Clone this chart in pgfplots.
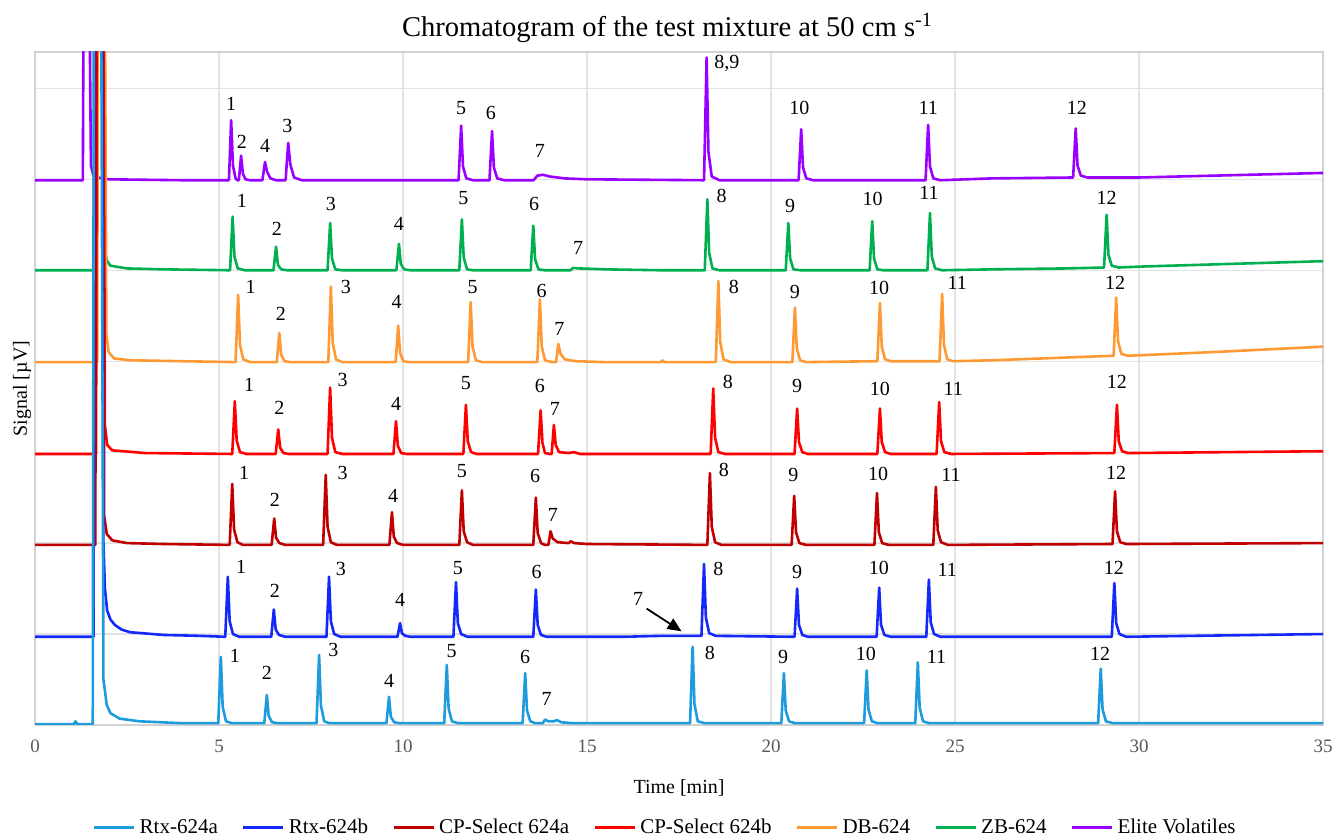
\documentclass[border=0pt]{standalone}
\usepackage{fontspec}
\setmainfont{Liberation Serif}
\usepackage{pgfplots}
\pgfplotsset{compat=1.18}
\usetikzlibrary{arrows.meta}

\definecolor{rtxa}{RGB}{30,155,220}
\definecolor{rtxb}{RGB}{20,40,250}
\definecolor{cpa}{RGB}{192,0,0}
\definecolor{cpb}{RGB}{255,0,0}
\definecolor{dbc}{RGB}{255,153,51}
\definecolor{zbc}{RGB}{0,176,80}
\definecolor{elite}{RGB}{153,0,255}
\definecolor{tickgray}{RGB}{89,89,89}

% peak label
\newcommand\pk[3]{\node[font=\fontsize{10}{12}\selectfont, text=black] at (axis cs:#1,#2) {#3};}

\begin{document}
\begin{tikzpicture}
\begin{axis}[
  width=644pt, height=336.5pt, scale only axis,
  xmin=0, xmax=35, ymin=0, ymax=7.4,
  xtick={0,5,...,35}, ytick={0,1,...,7}, yticklabels={},
  grid=major, grid style={gray!22, line width=0.6pt},
  axis line style={gray!35, line width=0.6pt},
  major tick length=0pt,
  tick label style={font=\fontsize{9.5}{11}\selectfont, text=tickgray},
  xticklabel style={yshift=-4pt},
  /pgf/number format/assume math mode=true,
  xlabel={Time [min]},
  xlabel style={font=\fontsize{10}{12}\selectfont, at={(axis description cs:0.5,-0.094)}, anchor=center},
  ylabel={Signal [µV]},
  ylabel style={font=\fontsize{10}{12}\selectfont, at={(axis description cs:-0.01,0.5)}, anchor=center},
  legend style={at={(axis description cs:0.49,-0.153)}, anchor=center, draw=none, fill=none,
    font=\fontsize{10.5}{12}\selectfont, legend columns=-1,
    /tikz/every even column/.append style={column sep=10pt}},
  legend image code/.code={\draw[#1, line width=1.5pt] (0pt,0pt) -- (20pt,0pt);},
  reverse legend,
  every axis plot/.append style={line width=1.3pt, line join=round, no marks},
]

% Elite Volatiles
\addplot[elite] coordinates {
(0,5.99) (1.30,5.99) (1.32,8) (1.48,8) (1.52,6.15) (1.58,6.05) (1.7,6.02) (2.0,6.0) (4,5.99)
(5.27,5.99) (5.33,6.65) (5.38,6.15) (5.45,6.01) (5.5,5.99)
(5.54,5.99) (5.60,6.26) (5.65,6.06) (5.72,6.0) (5.85,5.99)
(6.18,5.99) (6.25,6.19) (6.31,6.08) (6.4,6.01) (6.55,5.99)
(6.81,5.99) (6.88,6.40) (6.94,6.16) (7.04,6.02) (7.25,5.99)
(11.51,5.99) (11.58,6.59) (11.63,6.14) (11.72,6.01) (11.9,5.99)
(12.35,5.99) (12.42,6.53) (12.47,6.13) (12.56,6.01) (12.75,5.99)
(13.55,5.99) (13.65,6.04) (13.8,6.05) (14.0,6.03) (14.4,6.01) (15,6.0)
(18.18,5.99) (18.25,7.34) (18.3,6.3) (18.39,6.03) (18.6,5.99)
(20.75,5.99) (20.82,6.55) (20.87,6.13) (20.96,6.01) (21.15,5.99)
(24.2,5.99) (24.27,6.60) (24.32,6.14) (24.41,6.01) (24.6,5.99)
(26,6.01)
(28.21,6.02) (28.28,6.56) (28.33,6.15) (28.42,6.04) (28.6,6.02)
(30,6.02) (35,6.07)
};
\addlegendentry{Elite Volatiles}

% ZB-624
\addplot[zbc] coordinates {
(0,5.0) (1.63,5.0) (1.65,8) (1.86,8) (1.9,5.2) (1.95,5.11) (2.05,5.05) (2.5,5.02) (3.5,5.01)
(5.3,5.0) (5.37,5.59) (5.42,5.15) (5.51,5.02) (5.7,5.0)
(6.48,5.0) (6.55,5.26) (6.6,5.06) (6.69,5.01) (6.85,5.0)
(7.95,5.0) (8.02,5.52) (8.07,5.13) (8.16,5.01) (8.35,5.0)
(9.82,5.0) (9.89,5.29) (9.94,5.07) (10.03,5.01) (10.2,5.0)
(11.53,5.0) (11.6,5.56) (11.65,5.14) (11.74,5.01) (11.9,5.0)
(13.47,5.0) (13.54,5.49) (13.59,5.12) (13.68,5.01) (13.85,5.0)
(14.55,5.0) (14.62,5.025) (14.8,5.02) (15.5,5.01) (17,5.0)
(18.2,5.0) (18.27,5.78) (18.32,5.19) (18.41,5.02) (18.6,5.0)
(20.4,5.0) (20.47,5.52) (20.52,5.13) (20.61,5.01) (20.8,5.0)
(22.68,5.0) (22.75,5.54) (22.8,5.13) (22.89,5.01) (23.05,5.0)
(24.25,5.0) (24.32,5.63) (24.37,5.15) (24.46,5.02) (24.65,5.0)
(26,5.01) (28,5.02)
(29.05,5.03) (29.12,5.61) (29.17,5.17) (29.26,5.05) (29.45,5.03)
(30,5.04) (35,5.10)
};
\addlegendentry{ZB-624}

% DB-624
\addplot[dbc] coordinates {
(0,3.99) (1.69,3.99) (1.71,8) (1.9,8) (1.94,4.3) (2.0,4.1) (2.15,4.03) (2.6,4.01) (4,4.0)
(5.45,3.99) (5.52,4.73) (5.57,4.18) (5.66,4.02) (5.85,3.99)
(6.57,3.99) (6.64,4.31) (6.69,4.07) (6.78,4.0) (6.95,3.99)
(7.97,3.99) (8.04,4.82) (8.09,4.2) (8.18,4.02) (8.35,3.99)
(9.8,3.99) (9.87,4.39) (9.92,4.09) (10.01,4.0) (10.15,3.99)
(11.77,3.99) (11.84,4.65) (11.89,4.16) (11.98,4.01) (12.15,3.99)
(13.65,3.99) (13.72,4.68) (13.77,4.16) (13.86,4.01) (14.05,3.99)
(14.16,3.99) (14.22,4.19) (14.28,4.08) (14.4,4.02) (14.7,4.0) (15.5,3.99) (17.0,3.99) (17.05,4.01) (17.1,3.99)
(18.5,3.99) (18.57,4.88) (18.62,4.21) (18.71,4.02) (18.9,3.99)
(20.58,3.99) (20.65,4.59) (20.7,4.14) (20.79,4.01) (20.95,3.99)
(22.89,4.0) (22.96,4.64) (23.01,4.16) (23.1,4.02) (23.25,4.0)
(24.58,4.0) (24.65,4.74) (24.7,4.18) (24.79,4.02) (24.95,4.0)
(26,4.01) (28,4.04)
(29.31,4.06) (29.38,4.70) (29.43,4.22) (29.52,4.08) (29.7,4.06)
(32,4.10) (35,4.16)
};
\addlegendentry{DB-624}

% CP-Select 624b
\addplot[cpb] coordinates {
(0,2.98) (1.66,2.98) (1.68,8) (1.86,8) (1.9,3.3) (1.96,3.08) (2.1,3.02) (3,2.99)
(5.36,2.98) (5.43,3.56) (5.48,3.13) (5.57,3.0) (5.75,2.98)
(6.54,2.98) (6.61,3.25) (6.66,3.05) (6.75,2.99) (6.9,2.98)
(7.95,2.98) (8.02,3.71) (8.07,3.16) (8.16,3.0) (8.35,2.98)
(9.74,2.98) (9.81,3.34) (9.86,3.07) (9.95,2.99) (10.1,2.98)
(11.64,2.98) (11.71,3.52) (11.76,3.12) (11.85,3.0) (12.0,2.98)
(13.67,2.98) (13.74,3.46) (13.79,3.1) (13.86,2.99) (13.98,2.98)
(14.04,2.98) (14.10,3.30) (14.15,3.08) (14.24,3.0) (14.5,2.99) (14.65,3.0) (14.8,2.98)
(18.36,2.98) (18.43,3.70) (18.48,3.16) (18.57,3.0) (18.75,2.98)
(20.64,2.98) (20.71,3.48) (20.76,3.11) (20.85,3.0) (21.0,2.98)
(22.89,2.98) (22.96,3.48) (23.01,3.11) (23.1,3.0) (23.25,2.98)
(24.5,2.98) (24.57,3.55) (24.62,3.12) (24.71,3.0) (24.9,2.98)
(29.33,2.99) (29.40,3.52) (29.45,3.12) (29.54,3.01) (29.7,2.99)
(35,3.01)
};
\addlegendentry{CP-Select 624b}

% CP-Select 624a
\addplot[cpa] coordinates {
(0,1.98) (1.64,1.98) (1.66,8) (1.84,8) (1.88,2.3) (1.95,2.1) (2.1,2.03) (2.5,2.0) (3.5,1.99)
(5.29,1.98) (5.36,2.65) (5.41,2.15) (5.5,2.01) (5.65,1.98)
(6.43,1.98) (6.50,2.27) (6.55,2.06) (6.64,2.0) (6.8,1.98)
(7.83,1.98) (7.90,2.75) (7.95,2.18) (8.04,2.01) (8.2,1.98)
(9.63,1.98) (9.70,2.34) (9.75,2.07) (9.84,2.0) (10.0,1.98)
(11.53,1.98) (11.60,2.58) (11.65,2.13) (11.74,2.01) (11.9,1.98)
(13.54,1.98) (13.61,2.50) (13.66,2.11) (13.75,2.0) (13.85,1.98)
(13.95,1.98) (14.01,2.13) (14.07,2.05) (14.2,2.01) (14.5,2.0) (14.56,2.02) (14.65,2.0) (15,1.99)
(18.27,1.98) (18.34,2.77) (18.39,2.18) (18.48,2.01) (18.65,1.98)
(20.56,1.98) (20.63,2.52) (20.68,2.12) (20.77,2.0) (20.95,1.98)
(22.81,1.98) (22.88,2.55) (22.93,2.12) (23.02,2.0) (23.2,1.98)
(24.41,1.98) (24.48,2.62) (24.53,2.14) (24.62,2.01) (24.8,1.98)
(29.28,1.99) (29.35,2.57) (29.4,2.13) (29.49,2.01) (29.65,1.99)
(35,2.0)
};
\addlegendentry{CP-Select 624a}

% Rtx-624b
\addplot[rtxb] coordinates {
(0,0.97) (1.59,0.97) (1.61,8) (1.82,8) (1.86,2.0) (1.9,1.5) (1.96,1.26) (2.05,1.16) (2.17,1.10) (2.35,1.05) (2.58,1.02) (3.5,0.99) (4.5,0.98)
(5.17,0.97) (5.24,1.63) (5.29,1.14) (5.38,1.0) (5.55,0.97)
(6.42,0.97) (6.49,1.27) (6.54,1.05) (6.63,0.99) (6.8,0.97)
(7.92,0.97) (7.99,1.63) (8.04,1.14) (8.13,1.0) (8.3,0.97)
(9.85,0.97) (9.92,1.12) (9.97,1.01) (10.06,0.98) (10.2,0.97)
(11.37,0.97) (11.44,1.57) (11.49,1.12) (11.58,1.0) (11.75,0.97)
(13.54,0.97) (13.61,1.49) (13.66,1.1) (13.75,0.99) (13.9,0.97)
(14.5,0.97) (16,0.97) (17,0.98) (17.9,0.98)
(18.11,0.98) (18.18,1.77) (18.23,1.18) (18.32,1.01) (18.5,0.98)
(20.64,0.97) (20.71,1.50) (20.76,1.1) (20.85,0.99) (21.0,0.97)
(22.87,0.97) (22.94,1.51) (22.99,1.1) (23.08,0.99) (23.25,0.97)
(24.22,0.97) (24.29,1.60) (24.34,1.13) (24.43,1.0) (24.6,0.97)
(29.26,0.97) (29.33,1.56) (29.38,1.12) (29.47,1.0) (29.65,0.97)
(35,1.0)
};
\addlegendentry{Rtx-624b}

% Rtx-624a
\addplot[rtxa] coordinates {
(0,0.01) (1.05,0.01) (1.1,0.04) (1.15,0.01) (1.57,0.01) (1.6,8) (1.80,8) (1.86,0.5) (1.95,0.22) (2.05,0.13) (2.3,0.07) (2.85,0.04) (4,0.02)
(4.98,0.02) (5.05,0.75) (5.10,0.2) (5.19,0.04) (5.35,0.02)
(6.23,0.02) (6.30,0.33) (6.35,0.1) (6.44,0.03) (6.6,0.02)
(7.65,0.02) (7.72,0.77) (7.77,0.21) (7.86,0.04) (8.0,0.02)
(9.55,0.02) (9.62,0.31) (9.67,0.09) (9.76,0.03) (9.9,0.02)
(11.12,0.02) (11.19,0.66) (11.24,0.18) (11.33,0.04) (11.5,0.02)
(13.25,0.02) (13.32,0.57) (13.37,0.16) (13.46,0.04) (13.6,0.02)
(13.8,0.02) (13.86,0.06) (13.95,0.04) (14.1,0.04) (14.18,0.055) (14.3,0.03) (14.6,0.02)
(17.80,0.02) (17.87,0.86) (17.92,0.23) (18.01,0.04) (18.2,0.02)
(20.28,0.02) (20.35,0.57) (20.4,0.16) (20.49,0.04) (20.65,0.02)
(22.53,0.02) (22.60,0.60) (22.65,0.17) (22.74,0.04) (22.9,0.02)
(23.92,0.02) (23.99,0.69) (24.04,0.19) (24.13,0.04) (24.3,0.02)
(28.89,0.02) (28.96,0.62) (29.01,0.17) (29.1,0.04) (29.3,0.02)
(35,0.02)
};
\addlegendentry{Rtx-624a}

% peak labels: Rtx-624a
\pk{5.43}{0.76}{1} \pk{6.30}{0.57}{2} \pk{8.11}{0.82}{3} \pk{9.62}{0.48}{4}
\pk{11.32}{0.81}{5} \pk{13.32}{0.75}{6} \pk{13.90}{0.29}{7} \pk{18.34}{0.79}{8}
\pk{20.33}{0.75}{9} \pk{22.58}{0.78}{10} \pk{24.50}{0.75}{11} \pk{28.94}{0.78}{12}
% Rtx-624b
\pk{5.60}{1.74}{1} \pk{6.52}{1.48}{2} \pk{8.31}{1.72}{3} \pk{9.92}{1.38}{4}
\pk{11.49}{1.73}{5} \pk{13.63}{1.68}{6} \pk{16.39}{1.39}{7} \pk{18.57}{1.72}{8}
\pk{20.71}{1.68}{9} \pk{22.93}{1.73}{10} \pk{24.79}{1.70}{11} \pk{29.32}{1.73}{12}
\draw[-{Triangle[length=7pt,width=6pt]}, line width=0.9pt, black] (axis cs:16.62,1.28) -- (axis cs:17.57,1.03);
% CP-Select 624a
\pk{5.68}{2.77}{1} \pk{6.52}{2.48}{2} \pk{8.36}{2.77}{3} \pk{9.73}{2.52}{4}
\pk{11.60}{2.79}{5} \pk{13.59}{2.74}{6} \pk{14.07}{2.31}{7} \pk{18.72}{2.80}{8}
\pk{20.61}{2.75}{9} \pk{22.91}{2.76}{10} \pk{24.89}{2.75}{11} \pk{29.38}{2.77}{12}
% CP-Select 624b
\pk{5.82}{3.74}{1} \pk{6.64}{3.49}{2} \pk{8.36}{3.79}{3} \pk{9.81}{3.53}{4}
\pk{11.71}{3.76}{5} \pk{13.72}{3.73}{6} \pk{14.13}{3.48}{7} \pk{18.83}{3.77}{8}
\pk{20.71}{3.73}{9} \pk{22.96}{3.70}{10} \pk{24.95}{3.70}{11} \pk{29.40}{3.77}{12}
% DB-624
\pk{5.86}{4.82}{1} \pk{6.68}{4.52}{2} \pk{8.45}{4.82}{3} \pk{9.83}{4.65}{4}
\pk{11.89}{4.82}{5} \pk{13.77}{4.77}{6} \pk{14.25}{4.35}{7} \pk{18.99}{4.82}{8}
\pk{20.65}{4.76}{9} \pk{22.94}{4.81}{10} \pk{25.06}{4.86}{11} \pk{29.35}{4.86}{12}
% ZB-624
\pk{5.62}{5.76}{1} \pk{6.57}{5.46}{2} \pk{8.04}{5.73}{3} \pk{9.89}{5.51}{4}
\pk{11.64}{5.79}{5} \pk{13.56}{5.73}{6} \pk{14.76}{5.24}{7} \pk{18.66}{5.82}{8}
\pk{20.52}{5.71}{9} \pk{22.76}{5.78}{10} \pk{24.29}{5.85}{11} \pk{29.12}{5.80}{12}
% Elite Volatiles
\pk{5.33}{6.83}{1} \pk{5.62}{6.41}{2} \pk{6.86}{6.59}{3} \pk{6.25}{6.37}{4}
\pk{11.58}{6.78}{5} \pk{12.39}{6.73}{6} \pk{13.72}{6.31}{7} \pk{18.80}{7.27}{8,9}
\pk{20.77}{6.79}{10} \pk{24.27}{6.79}{11} \pk{28.31}{6.78}{12}
\end{axis}
\node[font=\fontsize{14.3}{17}\selectfont, anchor=center] at ([xshift=-5.8pt,yshift=12pt]current axis.north) {Chromatogram of the test mixture at 50 cm s\textsuperscript{-1}};
\pgfresetboundingbox
\path[use as bounding box] ([xshift=-17.5pt,yshift=-56.5pt]current axis.south west) rectangle ([xshift=5pt,yshift=26pt]current axis.north east);
\end{tikzpicture}
\end{document}
